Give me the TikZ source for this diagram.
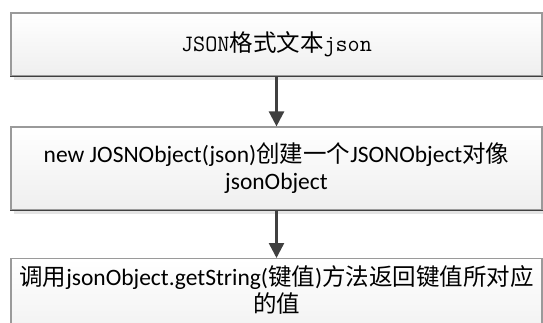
\documentclass[tikz,border=0pt]{standalone}
\usepackage{fontspec}
\setmainfont{Carlito}
\newfontfamily\cjk{Noto Sans CJK SC}
\usetikzlibrary{arrows.meta,shadows}

\definecolor{boxline}{HTML}{9A9A9A}
\definecolor{boxbase}{HTML}{404040}
\definecolor{shadowgray}{HTML}{E4E4E4}

\begin{document}
\begin{tikzpicture}[x=1pt,y=-1pt,
    flowbox/.style={draw=boxline, line width=1.2pt, top color=white, bottom color=gray!13,
        minimum width=531pt, inner sep=0pt,
        drop shadow={shadow xshift=3pt, shadow yshift=-4pt, fill=shadowgray, opacity=1}},
    flowtext/.style={font=\fontsize{23.5}{27}\selectfont, align=center},
    flowarrow/.style={-{Triangle[width=15pt,length=15pt]}, line width=2.5pt, boxbase}]
                \clip (0,0) rectangle (543,322);
                % the three steps
                \node[flowbox, flowtext, minimum height=63pt] (jsontext) at (276.5,44.5) {\ttfamily JSON{\cjk 格式文本}json};
                \node[flowbox, flowtext, minimum height=83pt] (jsonobj) at (276.5,168.5) {new JOSNObject(json){\cjk 创建一个}JSONObject{\cjk 对像}\\jsonObject};
                \node[flowbox, minimum height=90pt, anchor=north] (getval) at (276.5,258) {};
                \node[flowtext] (getvaltext) at (276.5,290) {{\cjk 调用}jsonObject.getString({\cjk 键值}){\cjk 方法返回键值所对应}\\{\cjk 的值}};
                % darker bottom edges
                \draw[boxbase, line width=1.2pt] (jsontext.south west) -- (jsontext.south east);
                \draw[boxbase, line width=1.2pt] (jsonobj.south west) -- (jsonobj.south east);
                % arrows
                \draw[flowarrow] (jsontext) -- (jsonobj);
                \draw[flowarrow] (jsonobj) -- (getval);
            \end{tikzpicture}
\end{document}
